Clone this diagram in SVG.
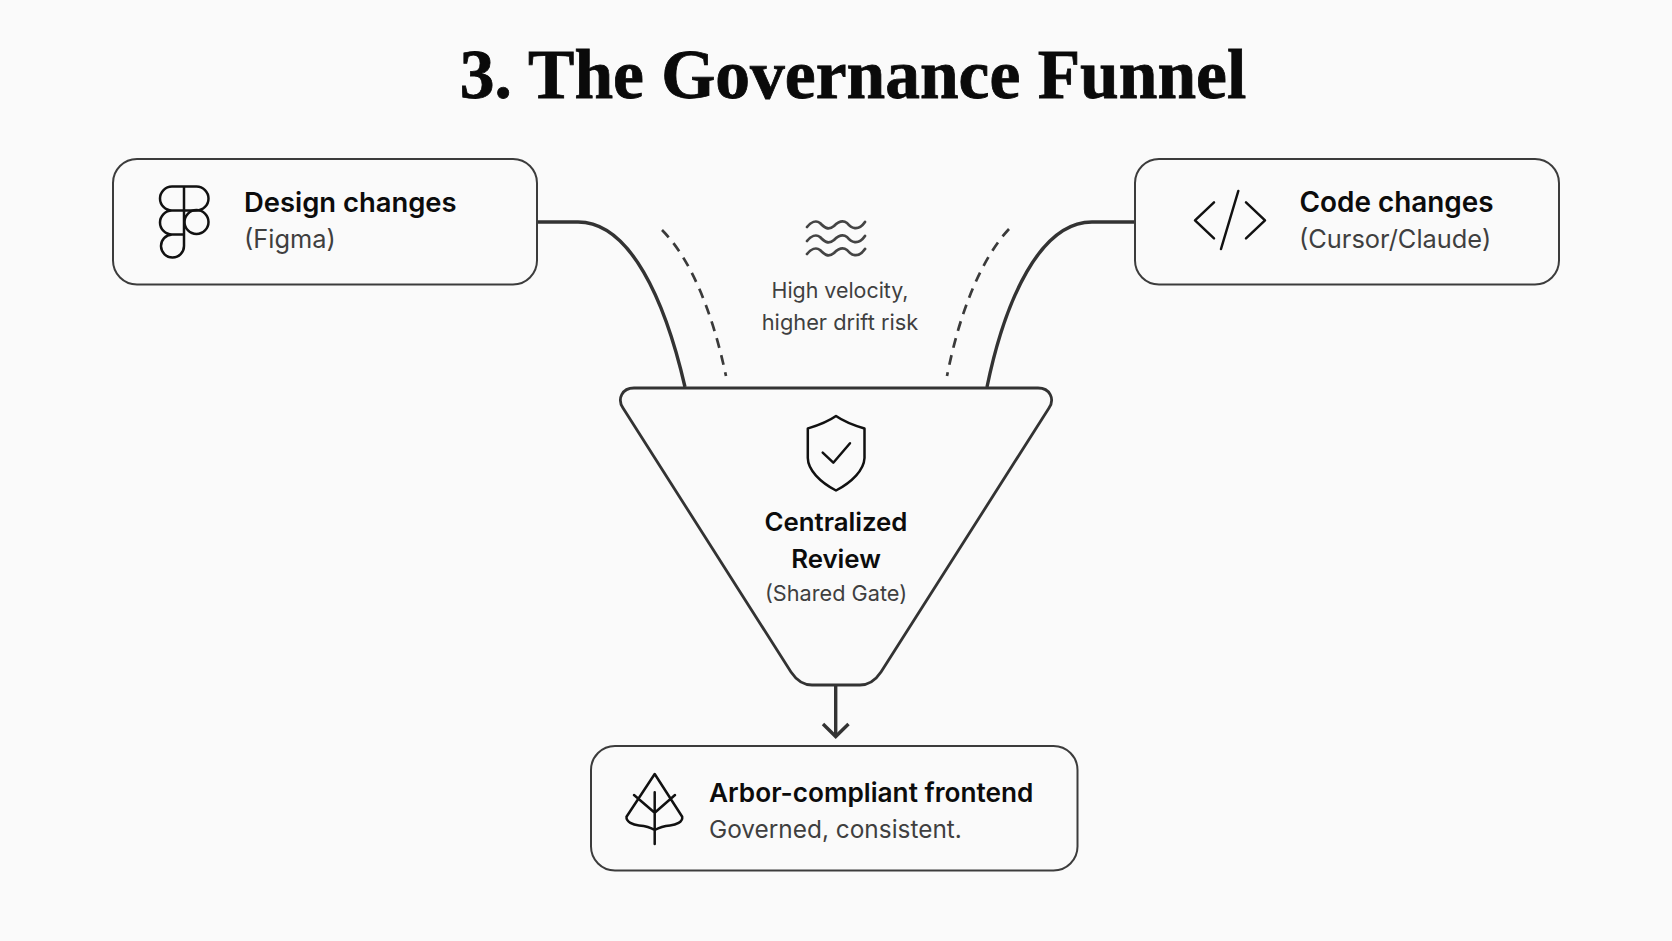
<svg xmlns="http://www.w3.org/2000/svg" width="1672" height="941" viewBox="0 0 1672 941">
<style>
.box{fill:#fafafa;stroke:#3c3c3c;stroke-width:2}
.fun{fill:#fafafa;stroke:#333;stroke-width:2.800}
.ic{fill:none;stroke:#111;stroke-width:2.500;stroke-linecap:round;stroke-linejoin:round}
.conn{fill:none;stroke:#333;stroke-width:3.400}
.dash{fill:none;stroke:#3a3a3a;stroke-width:2.700;stroke-dasharray:10 7.500}
.wave{fill:none;stroke:#444;stroke-width:2.800;stroke-linecap:round}
.t{font-family:"Inter","Liberation Sans",sans-serif;font-weight:600;fill:#0c0c0c}
.s{font-family:"Inter","Liberation Sans",sans-serif;font-weight:400;fill:#3f3f3f}
.m{text-anchor:middle}
</style>
<defs><path id="w" d="M807 227C811 222 816 220 820 223C824 227 828 231 834 226C838 222 843 220 847 223C851 228 858 232 865 222"/></defs>
<rect width="1672" height="941" fill="#fafafa"/>
<text x="853" y="97.500" class="m" font-family="'Liberation Serif',serif" font-weight="700" font-size="69.500" fill="#0a0a0a" stroke="#0a0a0a" stroke-width="0.800">3. The Governance Funnel</text>
<g id="connectors">
<path class="conn" d="M537 222H578C630 222 665 300 685 387"/>
<path class="conn" d="M1135 222H1092C1040 222 1005 300 987 387"/>
<path class="dash" d="M662 230C690 258 712 310 726 376"/>
<path class="dash" d="M1009 229C982 258 960 310 947 376"/>
<path class="conn" d="M835.700 685V736"/>
<path class="conn" d="M823 724L835.700 736.500L848.500 724"/>
</g>
<g id="design">
<rect class="box" x="113" y="159" width="424" height="125.500" rx="24"/>
<path class="ic" d="M184 186.500H172a12 12 0 0 0 0 24H184ZM184 186.500H196.500a12 12 0 0 1 0 24H184M184 210.500H172a12 12 0 0 0 0 24H184M184 234.500H172a11.500 11.500 0 1 0 12 11.500V210.500"/>
<circle class="ic" cx="196.500" cy="222" r="12"/>
<text x="244" y="211.500" class="t" font-size="27.400">Design changes</text>
<text x="244" y="248" class="s" font-size="25.400">(Figma)</text>
</g>
<g id="code">
<rect class="box" x="1135" y="159" width="424" height="125.500" rx="24"/>
<path class="ic" d="M1214 202.300L1195 220.300L1214 238.300M1238.300 191L1221 249M1246 202.300L1265 220.300L1246 238.300"/>
<text x="1299.500" y="211.500" class="t" font-size="27.900">Code changes</text>
<text x="1299" y="248" class="s" font-size="25.400">(Cursor/Claude)</text>
</g>
<g id="note">
<use href="#w" class="wave"/>
<use href="#w" class="wave" y="14"/>
<use href="#w" class="wave" y="27"/>
<text x="840" y="297.800" class="s m" font-size="21.400" fill="#444">High velocity,</text>
<text x="840" y="329.800" class="s m" font-size="21.800" fill="#444">higher drift risk</text>
</g>
<g id="funnel">
<path class="fun" d="M634 388H1038C1050 388 1055 399 1049 408L881 672C875 681 869 685 860 685H812C803 685 797 681 791 672L623 408C617 399 622 388 634 388Z"/>
<path class="ic" d="M836 416C826 423 816 426 807.800 428.500V458C808 470 820 482 836 490.500C852 482 864 470 864.500 458V428.500C856 426 846 423 836 416Z"/>
<path class="ic" d="M822.700 452.700L833.300 462.700L850 443.300"/>
<text x="836" y="530.700" class="t m" font-size="25.800">Centralized</text>
<text x="836" y="567.500" class="t m" font-size="25.800">Review</text>
<text x="836" y="600.800" class="s m" font-size="21.700">(Shared Gate)</text>
</g>
<g id="output">
<rect class="box" x="591" y="746" width="486.500" height="124.500" rx="24"/>
<path class="ic" d="M654.700 774L682.200 816.700C683 822 676 825 670 825.500C664 826 660 827 654.700 830C650 827 646 826 639 825.500C633 825 626 822 626.500 816.700ZM654.700 792.300V844M654.700 812.700L675 795M654.700 812.700L634 795"/>
<text x="709" y="801.800" class="t" font-size="26.200">Arbor-compliant frontend</text>
<text x="709" y="838" class="s" font-size="24.400">Governed, consistent.</text>
</g>
</svg>
